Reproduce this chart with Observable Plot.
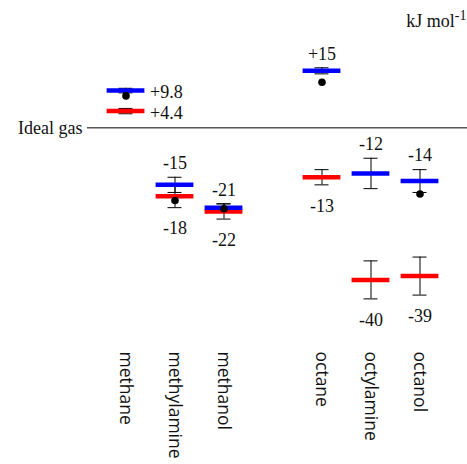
<!DOCTYPE html>
<html>
<head>
<meta charset="utf-8">
<script src="https://cdn.jsdelivr.net/npm/d3@7"></script>
<script src="https://cdn.jsdelivr.net/npm/@observablehq/plot@0.6"></script>
<style>
  html, body { margin: 0; padding: 0; background: #fff; }
  svg { display: block; }
</style>
</head>
<body>
<div id="chart"></div>
<script>
// ---- Data ----
const compounds = ["methane", "methylamine", "methanol", "octane", "octylamine", "octanol"];
const slots = ["methane", "methylamine", "methanol", "", "octane", "octylamine", "octanol"];
const blueValues = [9.8, -15, -21, 15, -12, -14];
const blueErrors = [0.6, 2, 1, 0.8, 4, 3];
const blueLabels = ["+9.8", "-15", "-21", "+15", "-12", "-14"];
const redValues = [4.4, -18, -22, -13, -40, -39];
const redErrors = [0.7, 3, 2, 2, 5, 5];
const redLabels = ["+4.4", "-18", "-22", "-13", "-40", "-39"];
const dotValues = [8.4, -19.1, -21.3, 12.0, null, -17.4];
const sideLabelled = ["methane"];
const baselineLabel = "Ideal gas";
const unitLabel = "kJ mol";
const unitExponent = "-1";

// ---- Tables ----
const rows = [];
compounds.forEach((c, i) => {
  rows.push({compound: c, series: "blue", value: blueValues[i], err: blueErrors[i], label: blueLabels[i]});
  rows.push({compound: c, series: "red", value: redValues[i], err: redErrors[i], label: redLabels[i]});
});
const dots = compounds.map((c, i) => ({compound: c, value: dotValues[i]})).filter(d => d.value != null);
const side = rows.filter(d => sideLabelled.includes(d.compound));
const stacked = rows.filter(d => !sideLabelled.includes(d.compound));
const above = stacked.filter(d => d.series === "blue");
const below = stacked.filter(d => d.series === "red");

const serif = "'Liberation Serif', 'Times New Roman', serif";
const sans = "'Open Sans', 'Noto Sans', sans-serif";

const plot = Plot.plot({
  width: 467,
  height: 464,
  marginTop: 0,
  marginBottom: 120,
  marginLeft: 100,
  marginRight: 21.6,
  style: {background: "#fff", color: "#111"},
  x: {domain: slots, padding: 0},
  y: {domain: [-57, 33.5], axis: null},
  color: {domain: ["blue", "red"], range: ["#3300cc", "#ff0000"]},
  marks: [
    Plot.ruleY([0], {stroke: "#555", strokeWidth: 1.5, insetLeft: -13, insetRight: -22}),
    Plot.text([baselineLabel], {text: d => d, y: () => 0, frameAnchor: "left", textAnchor: "end", dx: -18, fontFamily: serif, fontSize: 18, fill: "#111"}),
    // error bars
    Plot.ruleX(rows, {x: "compound", y1: d => d.value - d.err, y2: d => d.value + d.err, stroke: "#000", strokeWidth: 1}),
    Plot.tickY(rows, {x: "compound", y: d => d.value + d.err, stroke: "#000", strokeWidth: 1, insetLeft: 17.5, insetRight: 17.5}),
    Plot.tickY(rows, {x: "compound", y: d => d.value - d.err, stroke: "#000", strokeWidth: 1, insetLeft: 17.5, insetRight: 17.5}),
    // bars
    Plot.tickY(rows.filter(d => d.series === "red"), {x: "compound", y: "value", stroke: "series", strokeWidth: 4.5, insetLeft: 5.6, insetRight: 5.6}),
    Plot.tickY(rows.filter(d => d.series === "blue"), {x: "compound", y: "value", stroke: "series", strokeWidth: 4.5, insetLeft: 5.6, insetRight: 5.6}),
    // dots
    Plot.dot(dots, {x: "compound", y: "value", r: 3.8, fill: "#000"}),
    // value labels
    Plot.text(above, {x: "compound", y: d => d.value + d.err, text: "label", dy: -14, fontFamily: serif, fontSize: 18, fill: "#111"}),
    Plot.text(below, {x: "compound", y: d => d.value - d.err, text: "label", dy: 21, fontFamily: serif, fontSize: 18, fill: "#111"}),
    Plot.text(side, {x: "compound", y: "value", text: "label", dx: 24, dy: 2, textAnchor: "start", fontFamily: serif, fontSize: 18, fill: "#111"}),
    // unit
    Plot.text([unitLabel], {text: d => d, frameAnchor: "top-right", textAnchor: "end", lineAnchor: "top", dx: 20.6, dy: 14, fontFamily: serif, fontSize: 18, fill: "#111", className: "unit-label"}),
    // category axis
    Plot.axisX({tickRotate: 90, tickSize: 0, tickPadding: 7, label: null, fontSize: 17.5, fontFamily: sans, fill: "#111"})
  ]
});

d3.select(plot).selectAll(".unit-label text")
  .append("tspan")
  .attr("dy", -7)
  .attr("font-size", 14)
  .text(unitExponent);

document.getElementById("chart").appendChild(plot);
</script>
</body>
</html>
